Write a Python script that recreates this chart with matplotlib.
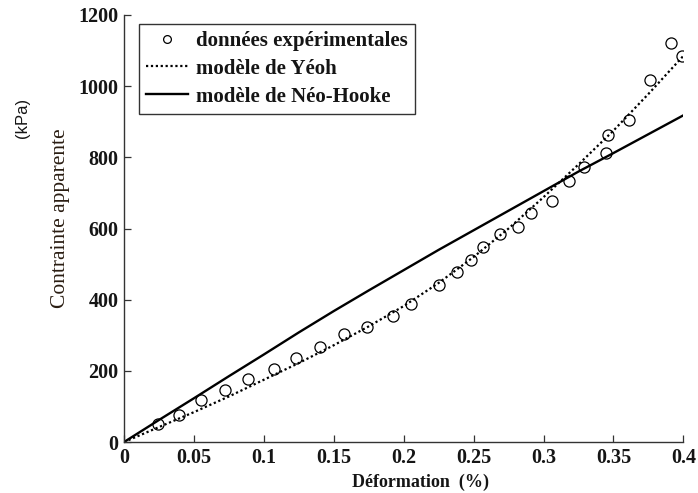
import matplotlib
matplotlib.use("Agg")
import matplotlib.pyplot as plt

# experimental points (strain, apparent stress in kPa)
exp_strain = [0.024, 0.039, 0.055, 0.072, 0.089, 0.107, 0.123, 0.140, 0.157,
              0.174, 0.192, 0.205, 0.225, 0.238, 0.248, 0.257, 0.269, 0.282,
              0.291, 0.306, 0.318, 0.329, 0.345, 0.346, 0.361, 0.376, 0.391, 0.399]
exp_stress = [51, 76, 118, 146, 177, 205, 237, 268, 303,
              324, 355, 388, 441, 479, 512, 548, 585, 604,
              644, 676, 733, 772, 812, 864, 905, 1017, 1122, 1084]

# model curves
model_strain = [0, 0.025, 0.05, 0.075, 0.1, 0.125, 0.15, 0.175, 0.2,
                0.225, 0.25, 0.275, 0.3, 0.325, 0.35, 0.375, 0.4]
yeoh_stress = [0, 42, 84, 128, 175, 222, 272, 325, 382,
               447, 520, 600, 688, 780, 875, 978, 1085]
neo_stress = [0, 62, 123, 185, 246, 308, 368, 426, 483,
              540, 595, 650, 705, 760, 812, 865, 918]

serif = "Liberation Serif"
txt = "#151515"

fig = plt.figure(figsize=(6.98, 4.93), dpi=100)
ax = fig.add_axes([0.1777, 0.1034, 0.8013, 0.8662])

ax.plot(exp_strain, exp_stress, linestyle="none", marker="o", markersize=8,
        markerfacecolor="white", markeredgecolor="black", markeredgewidth=0.9,
        label="données expérimentales")
ax.plot(model_strain, yeoh_stress, linestyle=(0, (1, 1.2)), color="black",
        linewidth=1.6, label="modèle de Yéoh")
ax.plot(model_strain, neo_stress, linestyle="-", color="black",
        linewidth=1.7, label="modèle de Néo-Hooke")

ax.set_xlim(0, 0.4)
ax.set_ylim(0, 1200)
ax.set_xticks([0, 0.05, 0.1, 0.15, 0.2, 0.25, 0.3, 0.35, 0.4])
ax.set_xticklabels(["0", "0.05", "0.1", "0.15", "0.2", "0.25", "0.3", "0.35", "0.4"])
ax.set_yticks([0, 200, 400, 600, 800, 1000, 1200])

for s in ["top", "right"]:
    ax.spines[s].set_visible(False)
ax.spines["left"].set_linewidth(1.0)
ax.spines["bottom"].set_linewidth(1.0)
ax.spines["left"].set_color("#333333")
ax.spines["bottom"].set_color("#333333")
ax.tick_params(direction="in", length=5, width=0.9, pad=4, color="#333333")
for lab in ax.get_xticklabels() + ax.get_yticklabels():
    lab.set_fontfamily(serif)
    lab.set_fontweight("bold")
    lab.set_fontsize(14.5)
    lab.set_color(txt)

ax.set_xlabel("Déformation  (%)", fontfamily=serif, fontweight="bold",
              fontsize=13, color=txt)
ax.xaxis.set_label_coords(0.53, -0.074)
ax.set_ylabel("Contrainte apparente", fontfamily=serif, fontsize=15.5,
              color="#2a1d12")
ax.yaxis.set_label_coords(-0.097, 0.525)
fig.text(0.032, 0.76, "(kPa)", rotation=90, ha="center", va="center",
         fontfamily="Liberation Sans", fontsize=12, color=txt)

leg = ax.legend(loc="upper left", bbox_to_anchor=(0.027, 0.98), frameon=True,
                fancybox=False, edgecolor="black", handlelength=2.0,
                handletextpad=0.4, borderpad=0.35, labelspacing=0.38,
                borderaxespad=0, markerscale=0.7,
                prop={"family": serif, "weight": "bold", "size": 15})
leg.get_frame().set_linewidth(1.0)
for t in leg.get_texts():
    t.set_color(txt)

fig.savefig("out.png", dpi=100)
